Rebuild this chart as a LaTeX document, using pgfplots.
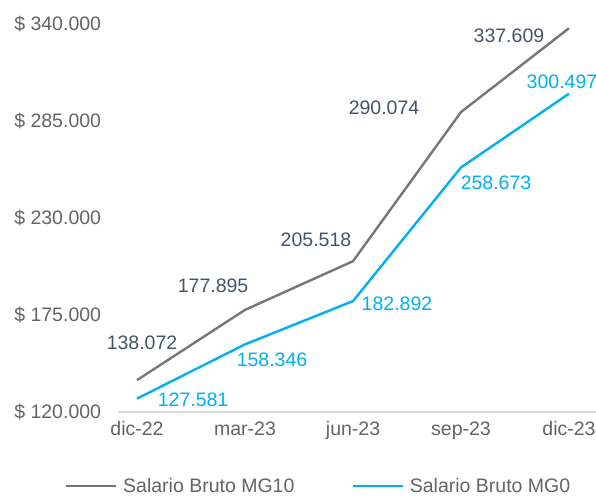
\documentclass[border=0pt]{standalone}
\usepackage{pgfplots}
\pgfplotsset{compat=1.18}
\usepackage{fontspec}
\setmainfont{Liberation Sans}
\definecolor{grisS}{RGB}{118,118,118}
\definecolor{cian}{RGB}{0,176,240}
\definecolor{etiq}{RGB}{68,84,106}
\definecolor{tick}{RGB}{100,100,100}
\definecolor{eje}{RGB}{217,217,217}

\begin{document}
\begin{tikzpicture}
\begin{axis}[
  name=ax,
  scale only axis,
  width=478.4pt, height=388pt,
  xmin=-0.18, xmax=4.25,
  ymin=120000, ymax=340000,
  scaled y ticks=false,
  xtick={0,1,2,3,4},
  xticklabels={dic-22,mar-23,jun-23,sep-23,dic-23},
  ytick={120000,175000,230000,285000,340000},
  yticklabels={\$ 120.000,\$ 175.000,\$ 230.000,\$ 285.000,\$ 340.000},
  axis x line*=bottom, axis y line*=left,
  x axis line style={draw=eje, line width=1.5pt, -},
  y axis line style={draw=none},
  major tick length=0pt,
  ticklabel style={font=\fontsize{19.5}{22}\selectfont, text=tick},
  xticklabel style={yshift=-6pt},
  yticklabel style={xshift=-13pt},
  clip=false,
  legend columns=2,
  legend style={at={(rel axis cs:0.42,-0.19)}, anchor=center, draw=none,
    font=\fontsize{19.5}{22}\selectfont, text=tick,
    /tikz/every even column/.append style={column sep=55pt}},
  legend image code/.code={\draw[#1] (0pt,0pt) -- (50pt,0pt);},
  legend style={/tikz/every odd column/.append style={column sep=4pt}},
]
\addplot[grisS, line width=2.4pt] coordinates {
  (0,138072) (1,177895) (2,205518) (3,290074) (4,337609)};
\addlegendentry{Salario Bruto MG10}
\addplot[cian, line width=2.4pt] coordinates {
  (0,127581) (1,158346) (2,182892) (3,258673) (4,300497)};
\addlegendentry{Salario Bruto MG0}

\begin{scope}[every node/.style={font=\fontsize{19.5}{22}\selectfont}]
\node[text=etiq] at (axis cs:0.046,159124) {138.072};
\node[text=etiq] at (axis cs:0.704,191443) {177.895};
\node[text=etiq] at (axis cs:1.657,217526) {205.518};
\node[text=etiq] at (axis cs:2.287,292371) {290.074};
\node[text=etiq] at (axis cs:3.444,333196) {337.609};
\node[text=cian] at (axis cs:0.519,126804) {127.581};
\node[text=cian] at (axis cs:1.25,149485) {158.346};
\node[text=cian] at (axis cs:2.407,181237) {182.892};
\node[text=cian] at (axis cs:3.324,249845) {258.673};
\node[text=cian] at (axis cs:3.935,307113) {300.497};
\end{scope}
\end{axis}
\pgfresetboundingbox
\useasboundingbox ([xshift=-117.6pt,yshift=-84pt]ax.south west) rectangle ([yshift=24pt]ax.north east);
\end{tikzpicture}
\end{document}
